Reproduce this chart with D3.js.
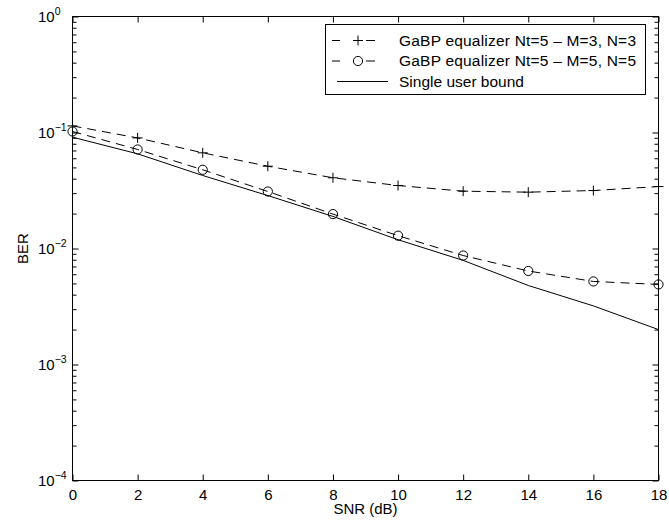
<!DOCTYPE html>
<html>
<head>
<meta charset="utf-8">
<script src="https://cdn.jsdelivr.net/npm/d3@7"></script>
<style>
html,body{margin:0;padding:0;background:#fff;}
svg{display:block;font-family:"Liberation Sans",Arial,Helvetica,sans-serif;}
</style>
</head>
<body>
<svg id="chart" width="669" height="524"></svg>
<script>
const snr = [0, 2, 4, 6, 8, 10, 12, 14, 16, 18];
const berM3 = [0.114, 0.0898, 0.0668, 0.0512, 0.0407, 0.0349, 0.0312, 0.0306, 0.0316, 0.0342];
const berM5 = [0.102, 0.0714, 0.0477, 0.0310, 0.0198, 0.0129, 0.0087, 0.0064, 0.0052, 0.0049];
const bound = [0.0911, 0.0655, 0.0426, 0.0286, 0.0189, 0.0119, 0.0079, 0.0048, 0.0032, 0.0020];
const xTicks = [0, 2, 4, 6, 8, 10, 12, 14, 16, 18];
const yExponents = [0, -1, -2, -3, -4];
const legendLabels = ["GaBP equalizer Nt=5 \u2013 M=3, N=3", "GaBP equalizer Nt=5 \u2013 M=5, N=5", "Single user bound"];

const L = 72.5, R = 658.5, T = 16.5, B = 480.5;
const svg = d3.select("#chart");
const x = d3.scaleLinear().domain([0, 18]).range([L, R]);
const y = d3.scaleLog().domain([1e-4, 1]).range([B, T]);

const majors = yExponents.map(e => Math.pow(10, e));
const minors = y.ticks().filter(v => !majors.some(m => Math.abs(m - v) / m < 1e-9));

function styleAxis(g) {
  g.select(".domain").remove();
  g.selectAll(".tick line").attr("stroke", "#000").attr("stroke-width", 1);
}
svg.append("g").attr("transform", `translate(0,${B})`)
  .call(d3.axisBottom(x).tickValues(xTicks).tickSize(-6).tickSizeOuter(0).tickFormat(d3.format("d")))
  .call(styleAxis)
  .call(g => g.selectAll("text").attr("y", 19).attr("dy", 0).attr("font-size", 15)
     .attr("font-family", "Liberation Sans, Arial, sans-serif").attr("fill", "#000"));
svg.append("g").attr("transform", `translate(0,${T})`)
  .call(d3.axisTop(x).tickValues(xTicks).tickSize(-6).tickSizeOuter(0).tickFormat(""))
  .call(styleAxis);
svg.append("g").attr("transform", `translate(${L},0)`)
  .call(d3.axisLeft(y).tickValues(majors).tickSize(-6).tickSizeOuter(0).tickFormat(""))
  .call(styleAxis);
svg.append("g").attr("transform", `translate(${L},0)`)
  .call(d3.axisLeft(y).tickValues(minors).tickSize(-4).tickSizeOuter(0).tickFormat(""))
  .call(styleAxis);
svg.append("g").attr("transform", `translate(${R},0)`)
  .call(d3.axisRight(y).tickValues(majors).tickSize(-6).tickSizeOuter(0).tickFormat(""))
  .call(styleAxis);
svg.append("g").attr("transform", `translate(${R},0)`)
  .call(d3.axisRight(y).tickValues(minors).tickSize(-4).tickSizeOuter(0).tickFormat(""))
  .call(styleAxis);

yExponents.forEach(e => {
  const t = svg.append("text").attr("x", 38).attr("y", y(Math.pow(10, e)) + 5.5)
    .attr("font-size", 15).attr("fill", "#000");
  t.append("tspan").text("10");
  t.append("tspan").attr("dy", -7).attr("font-size", 10.5).text(e === 0 ? "0" : "\u2212" + Math.abs(e));
});

svg.append("rect").attr("x", L).attr("y", T).attr("width", R - L).attr("height", B - T)
  .attr("fill", "none").attr("stroke", "#000").attr("stroke-width", 1);

svg.append("text").attr("x", (L + R) / 2).attr("y", 514).attr("text-anchor", "middle")
  .attr("font-size", 15).text("SNR (dB)");
svg.append("text").attr("transform", `translate(28,${(T + B) / 2}) rotate(-90)`)
  .attr("text-anchor", "middle").attr("font-size", 15).text("BER");

const line = d3.line().x(d => x(d[0])).y(d => y(d[1]));
const zip = arr => snr.map((s, i) => [s, arr[i]]);
const dash = "9,6";
svg.append("path").datum(zip(berM3)).attr("d", line).attr("fill", "none")
  .attr("stroke", "#000").attr("stroke-width", 1).attr("stroke-dasharray", dash);
svg.append("path").datum(zip(berM5)).attr("d", line).attr("fill", "none")
  .attr("stroke", "#000").attr("stroke-width", 1).attr("stroke-dasharray", dash);
svg.append("path").datum(zip(bound)).attr("d", line).attr("fill", "none")
  .attr("stroke", "#000").attr("stroke-width", 1);

function plus(g, cx, cy) {
  g.append("path").attr("d", `M${cx - 5},${cy}H${cx + 5}M${cx},${cy - 5}V${cy + 5}`)
    .attr("stroke", "#000").attr("stroke-width", 1).attr("fill", "none");
}
function circ(g, cx, cy) {
  g.append("circle").attr("cx", cx).attr("cy", cy).attr("r", 4.6)
    .attr("stroke", "#000").attr("stroke-width", 1).attr("fill", "none");
}
const mk = svg.append("g");
zip(berM3).forEach(d => plus(mk, x(d[0]), y(d[1])));
zip(berM5).forEach(d => circ(mk, x(d[0]), y(d[1])));

const lg = svg.append("g");
lg.append("rect").attr("x", 325.5).attr("y", 24.5).attr("width", 320).attr("height", 70)
  .attr("fill", "#fff").attr("stroke", "#000").attr("stroke-width", 1);
const rowsY = [40.5, 61, 81.5];
[0, 1].forEach(i => {
  const cy = rowsY[i];
  lg.append("path").attr("d", `M332,${cy}H340M366,${cy}H375`).attr("stroke", "#000").attr("stroke-width", 1);
  if (i === 0) plus(lg, 358, cy); else circ(lg, 358, cy);
});
lg.append("path").attr("d", `M337,${rowsY[2]}H388`).attr("stroke", "#000").attr("stroke-width", 1);
legendLabels.forEach((s, i) => {
  const t = lg.append("text").attr("x", 399).attr("y", rowsY[i] + 5).attr("font-size", 15.5).text(s);
  if (i < 2) t.attr("textLength", 237).attr("lengthAdjust", "spacing");
});
</script>
</body>
</html>
